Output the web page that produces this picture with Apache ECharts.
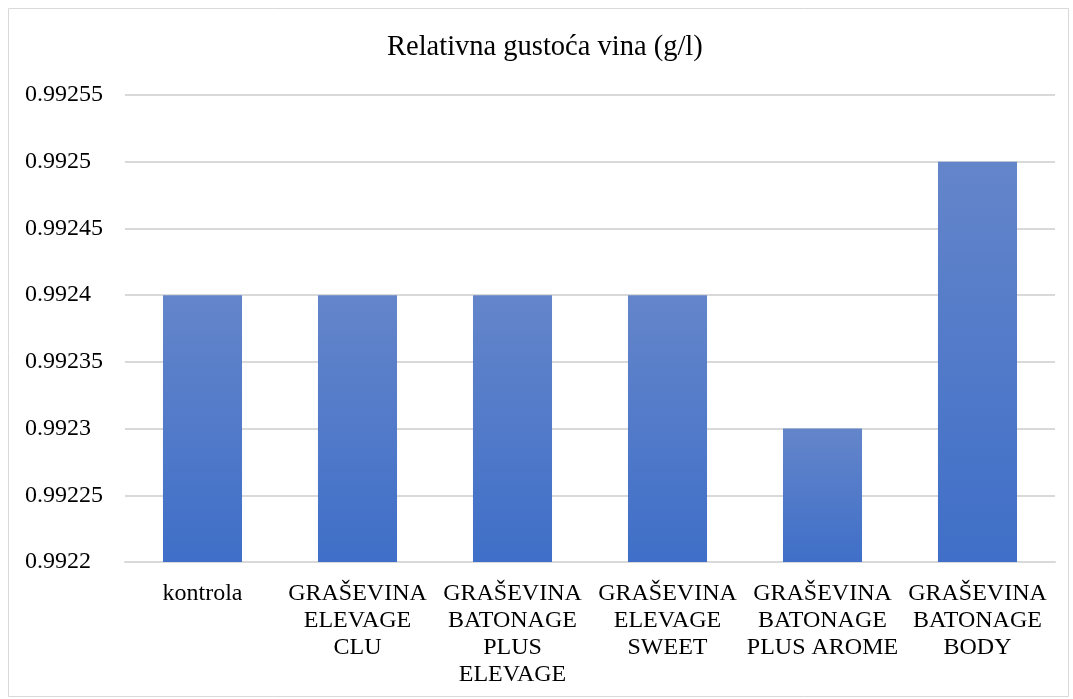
<!DOCTYPE html>
<html>
<head>
<meta charset="utf-8">
<script src="https://cdn.jsdelivr.net/npm/echarts@6/dist/echarts.min.js"></script>
<style>
  html, body { margin: 0; padding: 0; background: #fff; }
  #chart { width: 1073px; height: 699px; }
</style>
</head>
<body>
<div id="chart"></div>
<script>
// podaci s grafa
const categories = [
  'kontrola',
  'GRAŠEVINA\nELEVAGE\nCLU',
  'GRAŠEVINA\nBATONAGE\nPLUS\nELEVAGE',
  'GRAŠEVINA\nELEVAGE\nSWEET',
  'GRAŠEVINA\nBATONAGE\nPLUS AROME',
  'GRAŠEVINA\nBATONAGE\nBODY'
];
const density = [0.9924, 0.9924, 0.9924, 0.9924, 0.9923, 0.9925];
const yMin = 0.9922;
const yMax = 0.99255;
const yStep = 0.00005;

const chart = echarts.init(document.getElementById('chart'));

const font = '"Liberation Serif", "Times New Roman", serif';

const option = {
  animation: false,
  textStyle: { fontFamily: font },
  title: {
    text: 'Relativna gustoća vina (g/l)',
    left: 382,
    top: 28,
    textStyle: { fontFamily: font, fontSize: 28.5, fontWeight: 'normal', color: '#000' }
  },
  graphic: [{
    type: 'rect',
    shape: { x: 8.5, y: 8.5, width: 1060, height: 688 },
    style: { fill: 'none', stroke: '#d9d9d9', lineWidth: 1 },
    silent: true
  }],
  grid: { left: 125, right: 18, top: 95, bottom: 137 },
  xAxis: {
    type: 'category',
    data: categories,
    axisLine: { lineStyle: { color: '#d9d9d9', width: 2 } },
    axisTick: { show: false },
    axisLabel: {
      interval: 0,
      margin: 18,
      color: '#000',
      fontFamily: font,
      fontSize: 24,
      lineHeight: 27,
      align: 'center'
    }
  },
  yAxis: {
    type: 'value',
    min: yMin,
    max: yMax,
    interval: yStep,
    axisLine: { show: false },
    axisTick: { show: false },
    splitLine: { lineStyle: { color: '#d9d9d9', width: 2 } },
    axisLabel: {
      align: 'left',
      margin: 100,
      color: '#000',
      fontFamily: font,
      fontSize: 24,
      formatter: (v) => String(parseFloat(v.toFixed(6)))
    }
  },
  series: [{
    type: 'bar',
    data: density,
    barWidth: '51%',
    itemStyle: {
      color: new echarts.graphic.LinearGradient(0, 0, 0, 1, [
        { offset: 0, color: '#6485ca' },
        { offset: 1, color: '#3f6fc8' }
      ])
    }
  }]
};

chart.setOption(option);
</script>
</body>
</html>
